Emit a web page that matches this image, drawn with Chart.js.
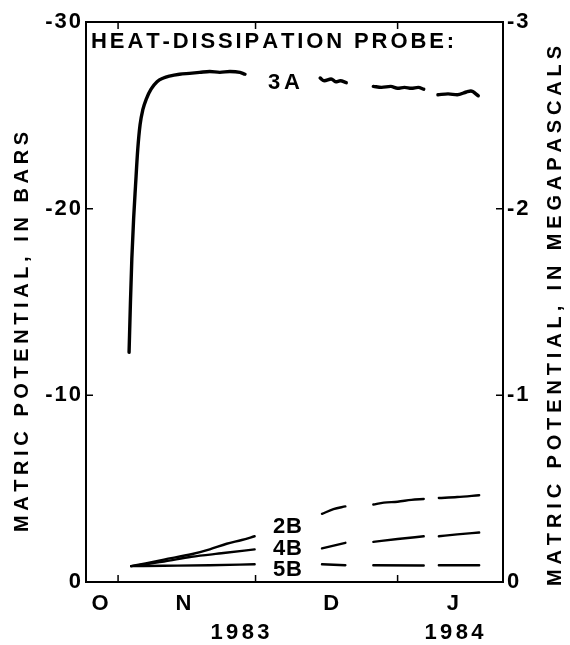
<!DOCTYPE html>
<html>
<head>
<meta charset="utf-8">
<script src="https://cdn.jsdelivr.net/npm/chart.js@4.4.1/dist/chart.umd.min.js"></script>
<style>
  html, body { margin: 0; padding: 0; background: #fff; }
</style>
</head>
<body>
<canvas id="chart" width="570" height="645"></canvas>
<script>
// x values are days counted from 1 Nov 1983, y values are matric potential in bars
const monthLabels = ['O', 'N', 'D', 'J'];
const monthLabelDays = [-3.7, 14.5, 46.7, 73.3];
const monthStartDays = [0, 30, 61];
const yearLabels = ['1983', '1984'];
const yearLabelDays = [26.6, 73.3];
const barsTicks = [-30, -20, -10, 0];
const mpaTicks = [-3, -2, -1, 0];

// [day, bars]; null marks a gap in the record
const probe3A = [
    [2.4, -12.3], [2.7, -15.0], [3.0, -17.3], [3.4, -19.5], [3.8, -21.2], [4.3, -23.2],
    [4.8, -24.5], [5.4, -25.3], [6.2, -25.9], [7.2, -26.4], [8.5, -26.8], [9.9, -27.0],
    [11.2, -27.1], [13.4, -27.2], [15.6, -27.25], [17.8, -27.3], [20.0, -27.35], [22.2, -27.3],
    [24.4, -27.35], [26.6, -27.3], [27.7, -27.2],
    [36, null],
    [44.1, -27.0], [45.0, -26.85], [46.5, -26.95], [47.5, -26.8], [48.5, -26.85], [49.8, -26.75],
    [52, null],
    [55.7, -26.55], [57.5, -26.5], [59.5, -26.55], [61, -26.45], [62.5, -26.5], [64, -26.45],
    [65.5, -26.5], [66.7, -26.4],
    [68, null],
    [69.8, -26.1], [72, -26.15], [74, -26.1], [76, -26.25], [77, -26.3], [78.6, -26.05]
];
const probe2B = [
    [2.85, -0.85], [6, -1.0], [10, -1.2], [16.2, -1.5], [20, -1.75], [23.7, -2.05], [27, -2.25], [29.8, -2.45],
    [37, null],
    [44.5, -3.65], [47, -3.9], [49.6, -4.05],
    [52, null],
    [55.7, -4.15], [58, -4.25], [61, -4.3], [64, -4.4], [66.7, -4.45],
    [68, null],
    [70, -4.5], [74, -4.55], [78.8, -4.65]
];
const probe4B = [
    [2.85, -0.85], [10, -1.1], [16, -1.35], [23, -1.55], [29.8, -1.75],
    [37, null],
    [44.5, -1.8], [49.6, -2.1],
    [52, null],
    [55.7, -2.15], [61, -2.3], [66.7, -2.45],
    [68, null],
    [70, -2.45], [74, -2.55], [78.8, -2.65]
];
const probe5B = [
    [2.85, -0.85], [10, -0.87], [20, -0.9], [29.8, -0.95],
    [37, null],
    [44.5, -0.95], [49.6, -0.9],
    [52, null],
    [55.7, -0.9], [66.7, -0.88],
    [68, null],
    [70, -0.9], [78.8, -0.9]
];

// text placed on the plot, in data units (day, bars) with a target width in px
const plotLabels = [
    { text: 'HEAT-DISSIPATION PROBE:', day: -5.9, bars: -28.93, width: 363 },
    { text: '3A', day: 32.7, bars: -26.75, width: 32 },
    { text: '2B', day: 33.8, bars: -2.94, width: 29 },
    { text: '4B', day: 33.8, bars: -1.76, width: 29 },
    { text: '5B', day: 33.8, bars: -0.64, width: 29 }
];

const FONT = "'Liberation Sans', Arial, Helvetica, sans-serif";

function toPoints(pairs) {
    return pairs.map(p => ({ x: p[0], y: p[1] }));
}

// draw text char by char so it spans a given width
function drawSpaced(ctx, text, x, y, width, align) {
    const chars = [...text];
    const widths = chars.map(c => ctx.measureText(c).width);
    const natural = widths.reduce((a, b) => a + b, 0);
    const gap = chars.length > 1 ? (width - natural) / (chars.length - 1) : 0;
    let cx = align === 'center' ? x - width / 2 : (align === 'right' ? x - width : x);
    ctx.textAlign = 'left';
    chars.forEach((c, i) => {
        ctx.fillText(c, cx, y);
        cx += widths[i] + gap;
    });
}

const framePlugin = {
    id: 'frame',
    beforeDraw(chart) {
        chart.ctx.letterSpacing = '2px';
    },
    afterDraw(chart) {
        const { ctx, chartArea: a, scales } = chart;
        ctx.save();
        ctx.letterSpacing = '0px';
        ctx.strokeStyle = '#000';
        ctx.fillStyle = '#000';

        // box round the plot
        ctx.lineWidth = 2;
        ctx.strokeRect(a.left, a.top, a.right - a.left, a.bottom - a.top);

        // inward tick marks
        ctx.lineWidth = 1.5;
        ctx.beginPath();
        monthStartDays.forEach(d => {
            const px = scales.x.getPixelForValue(d);
            ctx.moveTo(px, a.bottom); ctx.lineTo(px, a.bottom - 7);
            ctx.moveTo(px, a.top); ctx.lineTo(px, a.top + 7);
        });
        barsTicks.forEach(v => {
            const py = scales.y.getPixelForValue(v);
            ctx.moveTo(a.left, py); ctx.lineTo(a.left + 7, py);
            ctx.moveTo(a.right, py); ctx.lineTo(a.right - 7, py);
        });
        ctx.stroke();

        // labels inside the plot
        ctx.font = 'bold 22px ' + FONT;
        ctx.textBaseline = 'middle';
        plotLabels.forEach(l => {
            drawSpaced(ctx, l.text, scales.x.getPixelForValue(l.day), scales.y.getPixelForValue(l.bars), l.width, 'left');
        });

        // year labels under the months
        yearLabels.forEach((t, i) => {
            drawSpaced(ctx, t, scales.x.getPixelForValue(yearLabelDays[i]), 633, 59, 'center');
        });

        // axis titles
        ctx.font = 'bold 20px ' + FONT;
        ctx.save();
        ctx.translate(22, 332);
        ctx.rotate(-Math.PI / 2);
        drawSpaced(ctx, 'MATRIC POTENTIAL, IN BARS', 0, 0, 400, 'center');
        ctx.restore();

        ctx.save();
        ctx.translate(555, 316);
        ctx.rotate(-Math.PI / 2);
        drawSpaced(ctx, 'MATRIC POTENTIAL, IN MEGAPASCALS', 0, 0, 540, 'center');
        ctx.restore();

        ctx.restore();
    }
};

function lineDataset(label, pairs, width) {
    return {
        label: label,
        data: toPoints(pairs),
        borderColor: '#000',
        borderWidth: width,
        pointRadius: 0,
        fill: false,
        spanGaps: false,
        cubicInterpolationMode: 'monotone',
        borderCapStyle: 'round',
        borderJoinStyle: 'round'
    };
}

const tickFont = { family: FONT, size: 22, weight: 'bold' };

const chart = new Chart(document.getElementById('chart'), {
    type: 'line',
    data: {
        datasets: [
            lineDataset('3A', probe3A, 3.4),
            lineDataset('2B', probe2B, 2.4),
            lineDataset('4B', probe4B, 2.4),
            lineDataset('5B', probe5B, 2.4)
        ]
    },
    options: {
        responsive: false,
        animation: false,
        events: [],
        layout: { padding: { top: 22, left: 0, right: 0, bottom: 0 } },
        plugins: {
            legend: { display: false },
            tooltip: { enabled: false }
        },
        scales: {
            x: {
                type: 'linear',
                min: -7,
                max: 84,
                grid: { display: false, drawTicks: false },
                border: { display: false },
                afterBuildTicks: s => { s.ticks = monthLabelDays.map(v => ({ value: v })); },
                afterFit: s => { s.height = 63; },
                ticks: {
                    autoSkip: false,
                    maxRotation: 0,
                    padding: 9,
                    color: '#000',
                    font: tickFont,
                    callback: (v, i) => monthLabels[i]
                }
            },
            y: {
                position: 'left',
                reverse: true,
                min: -30,
                max: 0,
                grid: { display: false, drawTicks: false },
                border: { display: false },
                afterBuildTicks: s => { s.ticks = barsTicks.map(v => ({ value: v })); },
                afterFit: s => { s.width = 86; },
                ticks: { padding: 3, color: '#000', font: tickFont, callback: v => String(v) }
            },
            y2: {
                position: 'right',
                reverse: true,
                min: -3,
                max: 0,
                grid: { display: false, drawTicks: false },
                border: { display: false },
                afterBuildTicks: s => { s.ticks = mpaTicks.map(v => ({ value: v })); },
                afterFit: s => { s.width = 67; },
                ticks: { padding: 4, color: '#000', font: tickFont, callback: v => String(v) }
            }
        }
    },
    plugins: [framePlugin]
});
</script>
</body>
</html>
